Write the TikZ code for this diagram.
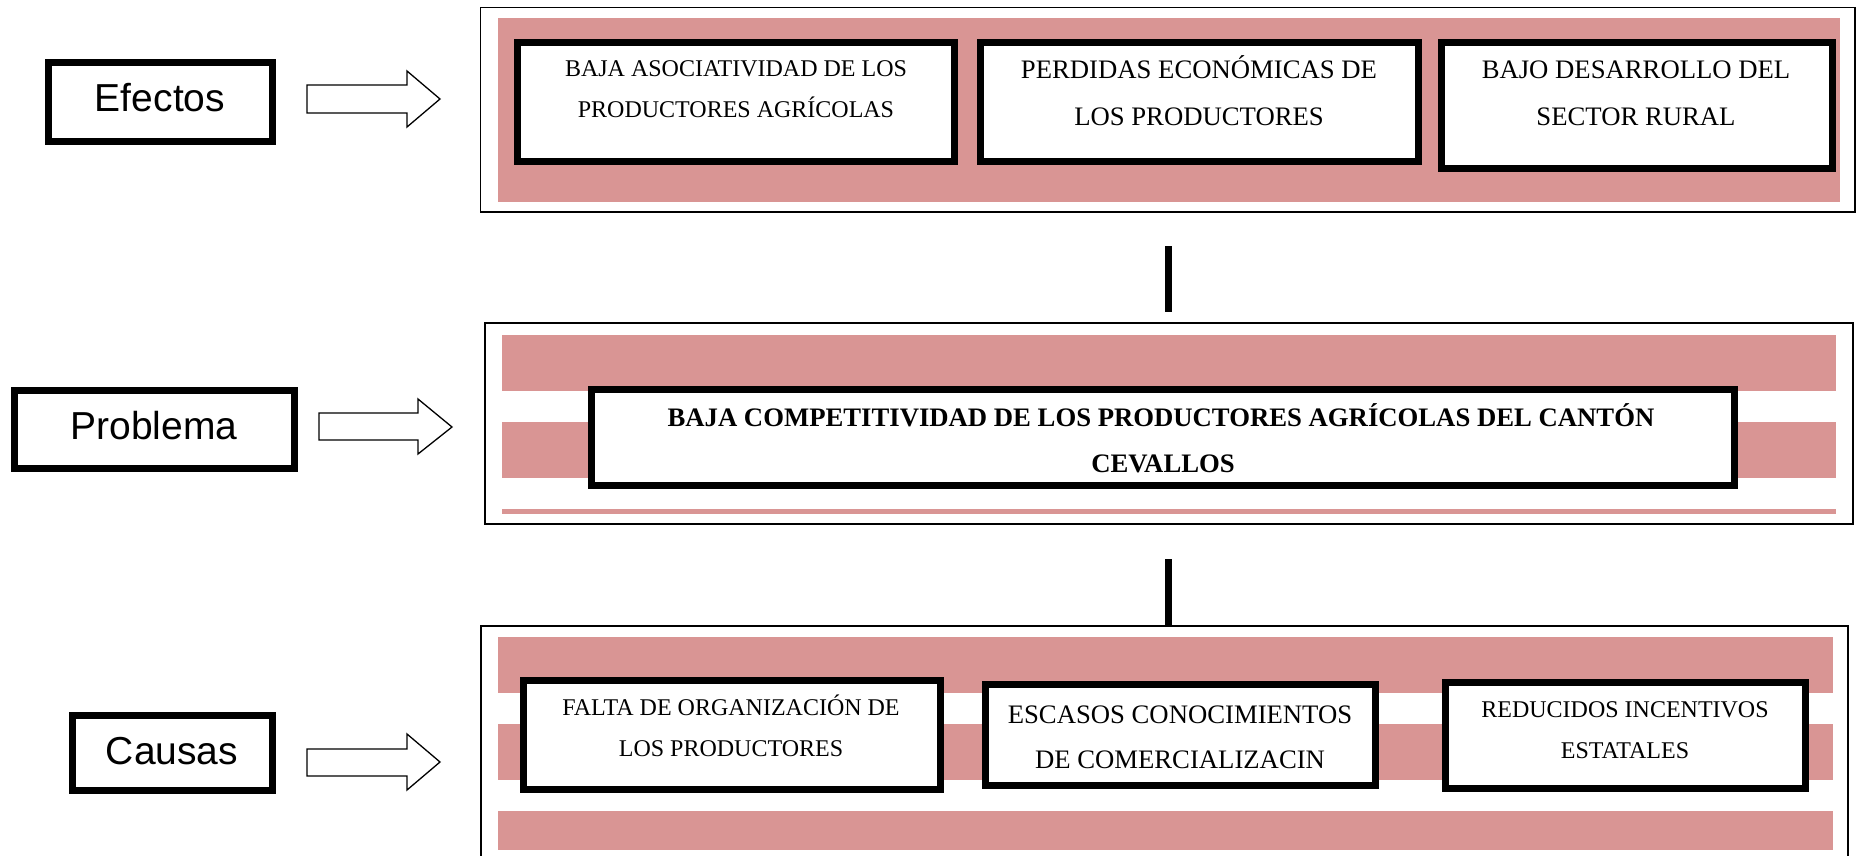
\documentclass[tikz,border=0pt]{standalone}
\usepackage{fontspec}
\setmainfont{Liberation Serif}
\newfontfamily\arialf{Liberation Sans}
\definecolor{bandpink}{RGB}{217,149,148}
\tikzset{
  outerbox/.style={draw=black,line width=1.5pt},
  band/.style={fill=bandpink,draw=none},
  thickbox/.style={draw=black,line width=7pt,fill=white,rectangle,inner sep=0pt},
  lbl/.style={anchor=base,inner sep=0pt,font=\arialf\fontsize{39pt}{39pt}\selectfont},
  smalltxt/.style={anchor=base,inner sep=0pt,font=\fontsize{24pt}{24pt}\selectfont},
  bigtxt/.style={anchor=base,inner sep=0pt,font=\fontsize{26.7pt}{26.7pt}\selectfont},
  boldtxt/.style={anchor=base,inner sep=0pt,font=\bfseries\fontsize{26.7pt}{26.7pt}\selectfont},
  blockarrow/.style={draw=black,line width=1.3pt,fill=white,line join=miter},
  link/.style={draw=black,line width=7pt}
}
\begin{document}
\begin{tikzpicture}[x=1pt,y=-1pt]
\useasboundingbox (0,0) rectangle (1857,856);
\clip (0,0) rectangle (1857,856);
\fill[white] (0,0) rectangle (1857,856);

% ---- outer frames and bands ----
\draw[outerbox] (480.5,7.5) rectangle (1855,212);
\fill[band] (498,18) rectangle (1840,202);

\draw[outerbox] (485,323) rectangle (1853,524);
\fill[band] (502,335) rectangle (1836,391);
\fill[band] (502,422) rectangle (1836,478);
\fill[band] (502,509) rectangle (1836,514);

\draw[outerbox] (481,626) rectangle (1848,880);
\fill[band] (498,637) rectangle (1833,693);
\fill[band] (498,724) rectangle (1833,780);
\fill[band] (498,811) rectangle (1833,850);

% ---- left labels ----
\node[thickbox,minimum width=224.5pt,minimum height=79pt] (lefe) at (160.25,102) {};
\node[lbl] (lefet) at (160,112) {Efectos};
\node[thickbox,minimum width=280pt,minimum height=78pt] (lpro) at (154.5,429.5) {};
\node[lbl] (lprot) at (154,439) {Problema};
\node[thickbox,minimum width=200pt,minimum height=75pt] (lcau) at (172.5,753) {};
\node[lbl] (lcaut) at (172,764) {Causas};

% ---- block arrows ----
\draw[blockarrow] (307,85) -- (407,85) -- (407,71) -- (440,99) -- (407,127) -- (407,113) -- (307,113) -- cycle;
\draw[blockarrow] (319,413) -- (418,413) -- (418,399) -- (452,427) -- (418,454) -- (418,440) -- (319,440) -- cycle;
\draw[blockarrow] (307,749) -- (407,749) -- (407,734) -- (440,762) -- (407,790) -- (407,776) -- (307,776) -- cycle;

% ---- effects ----
\node[thickbox,minimum width=437pt,minimum height=119pt] (e1) at (736,102) {};
\node[smalltxt] (e1a) at (736,77) {BAJA ASOCIATIVIDAD DE LOS};
\node[smalltxt] (e1b) at (736,118) {PRODUCTORES AGRÍCOLAS};
\node[thickbox,minimum width=438pt,minimum height=119pt] (e2) at (1199.5,102) {};
\node[bigtxt] (e2a) at (1199,79) {PERDIDAS ECONÓMICAS DE};
\node[bigtxt] (e2b) at (1199,126) {LOS PRODUCTORES};
\node[thickbox,minimum width=391pt,minimum height=126pt] (e3) at (1637,105.5) {};
\node[bigtxt] (e3a) at (1636,79) {BAJO DESARROLLO DEL};
\node[bigtxt] (e3b) at (1636,126) {SECTOR RURAL};

% ---- problem ----
\node[thickbox,minimum width=1143pt,minimum height=96pt] (prob) at (1163,437.5) {};
\node[boldtxt] (proba) at (1161,426) {BAJA COMPETITIVIDAD DE LOS PRODUCTORES AGRÍCOLAS DEL CANTÓN};
\node[boldtxt] (probb) at (1163,472) {CEVALLOS};

% ---- causes ----
\node[thickbox,minimum width=417pt,minimum height=109pt] (c1) at (732,735) {};
\node[smalltxt] (c1a) at (731,715) {FALTA DE ORGANIZACIÓN DE};
\node[smalltxt] (c1b) at (731,756) {LOS PRODUCTORES};
\node[thickbox,minimum width=390pt,minimum height=101pt] (c2) at (1180.5,735) {};
\node[bigtxt] (c2a) at (1180,723) {ESCASOS CONOCIMIENTOS};
\node[bigtxt] (c2b) at (1180,768) {DE COMERCIALIZACIN};
\node[thickbox,minimum width=360pt,minimum height=106pt] (c3) at (1625.5,735.5) {};
\node[smalltxt] (c3a) at (1625,717) {REDUCIDOS INCENTIVOS};
\node[smalltxt] (c3b) at (1625,758) {ESTATALES};

% ---- connectors ----
\coordinate (k1a) at (1168.5,246);
\coordinate (k1b) at (1168.5,312);
\coordinate (k2a) at (1168.5,559);
\coordinate (k2b) at (1168.5,626);
\draw[link] (k1a) -- (k1b);
\draw[link] (k2a) -- (k2b);
\end{tikzpicture}
\end{document}
